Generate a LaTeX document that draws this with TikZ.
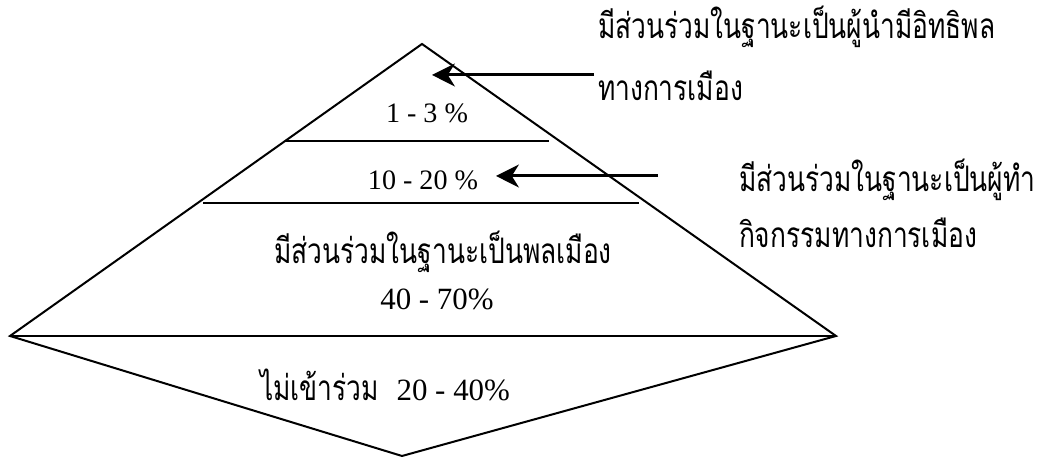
\documentclass[tikz,border=0pt]{standalone}
\usepackage{fontspec}
\setmainfont{Liberation Serif}
\newfontfamily\thaifont[Script=Thai, FakeStretch=0.75]{Loma}
\usetikzlibrary{arrows.meta}

\begin{document}
\begin{tikzpicture}[x=1cm, y=1cm, line width=0.57pt,
    pct/.style={font=\fontsize{8}{10}\selectfont},
    thai/.style={font=\thaifont\fontsize{10}{12}\selectfont},
    pointer/.style={line width=0.85pt, -{Stealth[length=6.5pt, width=6.5pt, inset=2pt]}}]

      \useasboundingbox (0, 0) rectangle (10.47, 4.57);

      % Draw pyramid and lower diamond
      \coordinate (top) at (4.22, 4.13);
      \coordinate (left) at (0.10, 1.21);
      \coordinate (right) at (8.36, 1.21);
      \coordinate (bottom) at (4.02, 0.01);
      \draw[line join=miter] (left) -- (top) -- (right) -- (bottom) -- cycle;
      \draw[line width=0.7pt] (left) -- (right);

      % Draw layer lines
      \draw (2.86, 3.16) -- (5.49, 3.16);
      \draw (2.03, 2.54) -- (6.39, 2.54);

      % Layer labels
      \node[pct] (leaders) at (4.27, 3.44) {1 - 3 \%};
      \node[pct] (activists) at (4.23, 2.77) {10 - 20 \%};
      \node[thai, anchor=base] (citizens) at (4.43, 1.93) {มีส่วนร่วมในฐานะเป็นพลเมือง};
      \node[pct, font=\fontsize{8.8}{10}\selectfont] (citizensPct) at (4.37, 1.58) {40 - 70\%};
      \node[thai] (apathetic) at (3.85, 0.72) {ไม่เข้าร่วม\ \ \rmfamily\fontsize{8.8}{10}\selectfont 20 - 40\%};

      % Notes on the right
      \node[thai, inner sep=0pt, anchor=base west] (leaderNote) at (5.97, 4.18) {มีส่วนร่วมในฐานะเป็นผู้นำมีอิทธิพล};
      \node[thai, inner sep=0pt, anchor=base west] (leaderNoteB) at (5.97, 3.56) {ทางการเมือง};
      \node[thai, inner sep=0pt, anchor=base west] (activistNote) at (7.38, 2.65) {มีส่วนร่วมในฐานะเป็นผู้ทำ};
      \node[thai, inner sep=0pt, anchor=base west] (activistNoteB) at (7.38, 2.09) {กิจกรรมทางการเมือง};

      % Draw the arrows
      \coordinate (leaderTail) at (5.94, 3.82);
      \coordinate (leaderTip) at (4.32, 3.82);
      \coordinate (activistTail) at (6.58, 2.81);
      \coordinate (activistTip) at (4.96, 2.81);
      \draw[pointer] (leaderTail) -- (leaderTip);
      \draw[pointer] (activistTail) -- (activistTip);

\end{tikzpicture}
\end{document}
